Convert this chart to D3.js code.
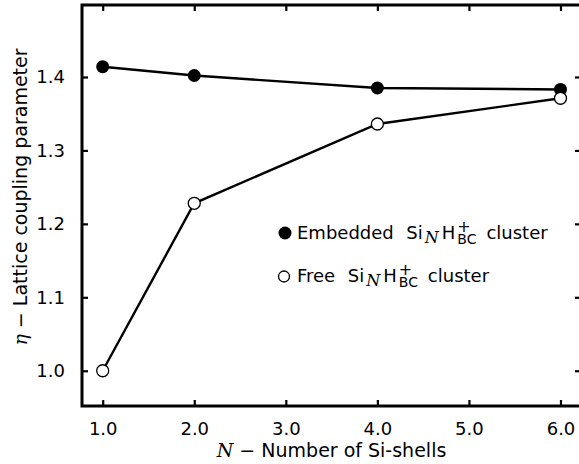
<!DOCTYPE html>
<html>
<head>
<meta charset="utf-8">
<script src="https://cdn.jsdelivr.net/npm/d3@7"></script>
<style>
  body { margin: 0; background: #fff; }
  text { font-family: "DejaVu Sans", sans-serif; fill: #000; }
</style>
</head>
<body>
<div id="chart"></div>
<script>
// values
var shells = [1, 2, 4, 6];
var embedded = [1.414, 1.402, 1.385, 1.383];
var free = [1.000, 1.228, 1.336, 1.371];
var xTicks = [1, 2, 3, 4, 5, 6];
var yTicks = [1.0, 1.1, 1.2, 1.3, 1.4];

var width = 579, height = 464;
var pLeft = 82, pRight = 581, pTop = 5, pBottom = 406;
var fs = 18;

var svg = d3.select("#chart").append("svg")
  .attr("width", width)
  .attr("height", height);

var x = d3.scaleLinear().domain([0.774, 6.224]).range([pLeft, pRight]);
var y = d3.scaleLinear().domain([0.952, 1.498]).range([pBottom, pTop]);

var fmt = d3.format(".1f");

// tick marks on all four sides, pointing inward
var tk = 6;
svg.append("g")
  .attr("transform", "translate(0," + pBottom + ")")
  .call(d3.axisBottom(x).tickValues(xTicks).tickSize(-tk).tickPadding(tk + 10).tickFormat(fmt))
  .call(function(g) { g.select(".domain").remove(); });
svg.append("g")
  .attr("transform", "translate(0," + pTop + ")")
  .call(d3.axisTop(x).tickValues(xTicks).tickSize(-tk).tickFormat(""))
  .call(function(g) { g.select(".domain").remove(); });
svg.append("g")
  .attr("transform", "translate(" + pLeft + ",0)")
  .call(d3.axisLeft(y).tickValues(yTicks).tickSize(-tk).tickPadding(tk + 11).tickFormat(fmt))
  .call(function(g) { g.select(".domain").remove(); });
svg.append("g")
  .attr("transform", "translate(" + pRight + ",0)")
  .call(d3.axisRight(y).tickValues(yTicks).tickSize(-tk).tickFormat(""))
  .call(function(g) { g.select(".domain").remove(); });

svg.selectAll(".tick line").attr("stroke", "#000").attr("stroke-width", 2.2);
svg.selectAll(".tick text").style("font-size", fs + "px").attr("fill", "#000");

// frame
svg.append("rect")
  .attr("x", pLeft).attr("y", pTop)
  .attr("width", pRight - pLeft).attr("height", pBottom - pTop)
  .attr("fill", "none").attr("stroke", "#000").attr("stroke-width", 3);

var line = d3.line()
  .x(function(d, i) { return x(shells[i]); })
  .y(function(d) { return y(d); });

svg.append("path").datum(embedded)
  .attr("d", line).attr("fill", "none")
  .attr("stroke", "#000").attr("stroke-width", 2.4);
svg.append("path").datum(free)
  .attr("d", line).attr("fill", "none")
  .attr("stroke", "#000").attr("stroke-width", 2.4);

svg.selectAll(".emb").data(embedded).enter().append("circle")
  .attr("class", "emb")
  .attr("cx", function(d, i) { return x(shells[i]); })
  .attr("cy", function(d) { return y(d); })
  .attr("r", 6.5).attr("fill", "#000");

svg.selectAll(".free").data(free).enter().append("circle")
  .attr("class", "free")
  .attr("cx", function(d, i) { return x(shells[i]); })
  .attr("cy", function(d) { return y(d); })
  .attr("r", 6).attr("fill", "#fff")
  .attr("stroke", "#000").attr("stroke-width", 1.3);

// legend text built piece by piece so the stacked script can sit right
function legendLabel(x0, yb, name) {
  var g = svg.append("g");
  var cx = x0;
  function piece(str, opts) {
    opts = opts || {};
    var t = g.append("text")
      .attr("x", cx + (opts.dx || 0))
      .attr("y", yb + (opts.dy || 0))
      .style("font-size", (opts.size || fs) + "px")
      .text(str);
    if (opts.italic) t.style("font-style", "italic").style("font-family", "'DejaVu Serif', serif");
    var w = t.node().getComputedTextLength();
    if (!opts.keep) cx += w + (opts.dx || 0);
    return w;
  }
  piece(name);
  cx += fs * 0.7;
  piece("Si");
  piece("N", { italic: true, size: 16, dy: 4, dx: 2 });
  piece("H", { dx: 3 });
  cx += 2;
  var w1 = piece("+", { size: 16, dy: -7, keep: true });
  var w2 = piece("BC", { size: 14, dy: 5, keep: true });
  cx += Math.max(w1, w2) + fs * 0.55;
  piece("cluster");
}

svg.append("circle").attr("cx", 285).attr("cy", 233).attr("r", 6.5).attr("fill", "#000");
legendLabel(297, 239, "Embedded");
svg.append("circle").attr("cx", 284).attr("cy", 276.5).attr("r", 5.5)
  .attr("fill", "#fff").attr("stroke", "#000").attr("stroke-width", 1.3);
legendLabel(297, 282, "Free");

// axis titles
var xt = svg.append("text")
  .attr("x", (pLeft + pRight) / 2).attr("y", 457)
  .attr("text-anchor", "middle")
  .style("font-size", "19px");
xt.append("tspan").text("N").style("font-style", "italic").style("font-family", "'DejaVu Serif', serif");
xt.append("tspan").text("\u00a0\u2212 Number of Si-shells");

var yt = svg.append("text")
  .attr("transform", "translate(27,197) rotate(-90)")
  .attr("text-anchor", "middle")
  .style("font-size", "19px");
yt.append("tspan").text("\u03b7").style("font-style", "italic").style("font-family", "'DejaVu Serif', serif");
yt.append("tspan").text("\u00a0\u2212 Lattice coupling parameter");
</script>
</body>
</html>
